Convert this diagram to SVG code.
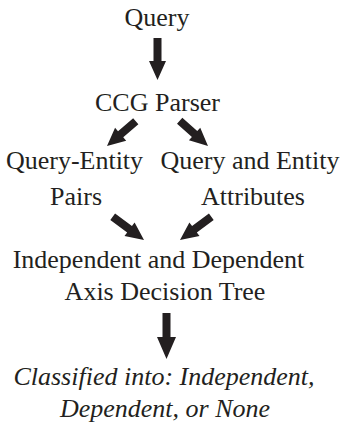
<svg xmlns="http://www.w3.org/2000/svg" width="344" height="423" viewBox="0 0 344 423">
<style>
.t{font-size:26px;fill:#231f20;text-anchor:middle}
.it{font-style:italic}
.arr{fill:#231f20;stroke:none}
</style>
<rect width="344" height="423" fill="#fff"/>
<g font-family="Liberation Serif, DejaVu Serif, serif" class="t">
<g id="query"><text x="157" y="26">Query</text></g>
<g id="ccg"><text x="157.5" y="111">CCG Parser</text></g>
<g id="pairs"><text x="74.5" y="169">Query-Entity</text><text x="76" y="205">Pairs</text></g>
<g id="attrs"><text x="250" y="169">Query and Entity</text><text x="253" y="205">Attributes</text></g>
<g id="tree"><text x="158.5" y="268">Independent and Dependent</text><text x="165" y="300">Axis Decision Tree</text></g>
<g id="result"><text class="it" x="164" y="385">Classified into: Independent,</text><text class="it" x="165" y="417">Dependent, or None</text></g>
</g>
<g id="connectors">
<path class="arr" transform="translate(157.5,80) rotate(90)" d="M-42,-4L-19,-4L-19,-8.5L0,0L-19,8.5L-19,4L-42,4Z"/>
<path class="arr" transform="translate(107,146) rotate(139.2)" d="M-38,-4L-18,-4L-18,-8.5L0,0L-18,8.5L-18,4L-38,4Z"/>
<path class="arr" transform="translate(208,146) rotate(41.8)" d="M-38,-4L-18,-4L-18,-8.5L0,0L-18,8.5L-18,4L-38,4Z"/>
<path class="arr" transform="translate(144,240) rotate(36.6)" d="M-39,-4L-18,-4L-18,-8.5L0,0L-18,8.5L-18,4L-39,4Z"/>
<path class="arr" transform="translate(180,240) rotate(143.4)" d="M-39,-4L-18,-4L-18,-8.5L0,0L-18,8.5L-18,4L-39,4Z"/>
<path class="arr" transform="translate(166.5,359) rotate(90)" d="M-46,-4L-22,-4L-22,-9.5L0,0L-22,9.5L-22,4L-46,4Z"/>
</g>
</svg>
